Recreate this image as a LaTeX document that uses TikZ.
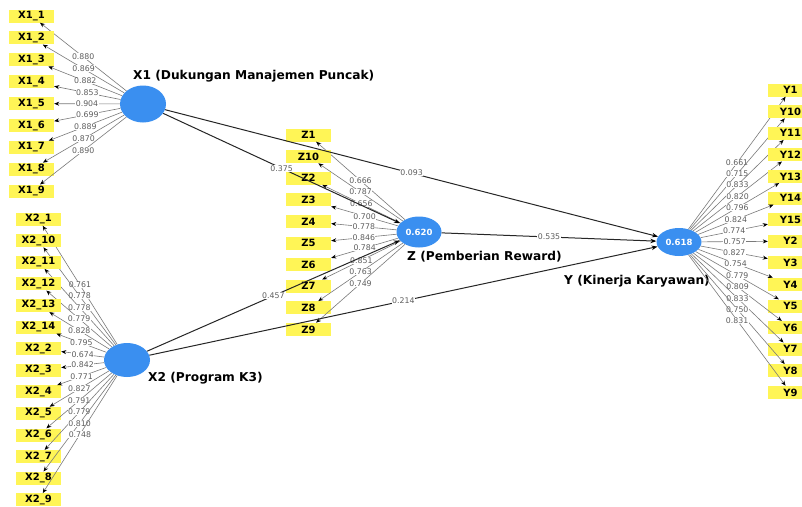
\documentclass[tikz,border=0pt]{standalone}
\usepackage{fontspec}
\setmainfont{DejaVu Sans}
\usepackage{tikz}
\usetikzlibrary{arrows.meta, positioning, shapes.geometric}
\definecolor{plsBlue}{HTML}{3A8FF0}
\definecolor{plsYellow}{HTML}{FFF556}
\definecolor{plsGray}{HTML}{5E5E5E}
\definecolor{plsLine}{HTML}{7A7A7A}

\begin{document}
\begin{tikzpicture}[x=1pt, y=-1pt,
  ind/.style={fill=plsYellow, minimum width=45pt, minimum height=13pt,
              inner sep=0pt, font=\bfseries\fontsize{10}{11}\selectfont},
  lat/.style={ellipse, fill=plsBlue, inner sep=0pt, text=white,
              font=\bfseries\fontsize{8.5}{9}\selectfont},
  latname/.style={anchor=west, inner sep=0pt, font=\bfseries\fontsize{12.2}{14}\selectfont},
  outer/.style={draw=plsLine, line width=0.6pt, -{Stealth[length=5pt, width=4pt, black]}},
  inner/.style={draw=black!85, line width=1pt, -{Stealth[length=6pt, width=4.5pt, black]}},
  ld/.style={fill=white, inner sep=0.4pt, text=plsGray, font=\fontsize{7.8}{8}\selectfont}]
  \useasboundingbox[fill=white] (0,0) rectangle (802,506);

  \node[lat, minimum width=46pt, minimum height=37pt] (X1) at (143,104) {};
  \node[lat, minimum width=46pt, minimum height=34pt] (X2) at (127,360) {};
  \node[lat, minimum width=45pt, minimum height=31pt] (Z) at (419,232) {0.620};
  \node[lat, minimum width=45pt, minimum height=28pt] (Y) at (679,242) {0.618};

  \node[latname] (X1name) at (133,76) {X1 (Dukungan Manajemen Puncak)};
  \node[latname] (X2name) at (148,378) {X2 (Program K3)};
  \node[latname] (Zname) at (407,257) {Z (Pemberian Reward)};
  \node[latname] (Yname) at (564,281) {Y (Kinerja Karyawan)};

  % indicators
  \foreach \t/\v [count=\i] in {1/0.880, 2/0.869, 3/0.882, 4/0.853, 5/0.904,
      6/0.699, 7/0.889, 8/0.870, 9/0.890} {
    \node[ind] (x1-\t) at (31.5, {16+21.9*(\i-1)}) {X1\_\t};
    \draw[outer] (X1) -- node[ld] {\v} (x1-\t);
  }
  \foreach \t/\v [count=\i] in {1/0.761, 10/0.778, 11/0.778, 12/0.779, 13/0.828,
      14/0.795, 2/0.674, 3/0.842, 4/0.771, 5/0.827, 6/0.791, 7/0.779, 8/0.810, 9/0.748} {
    \node[ind] (x2-\t) at (38.5, {219+21.6*(\i-1)}) {X2\_\t};
    \draw[outer] (X2) -- node[ld] {\v} (x2-\t);
  }
  \foreach \t/\v [count=\i] in {1/0.666, 10/0.787, 2/0.656, 3/0.700, 4/0.778,
      5/0.846, 6/0.784, 7/0.851, 8/0.763, 9/0.749} {
    \node[ind] (z-\t) at (308.5, {135+21.6*(\i-1)}) {Z\t};
    \draw[outer] (Z) -- node[ld] {\v} (z-\t);
  }
  \foreach \t/\v [count=\i] in {1/0.661, 10/0.715, 11/0.833, 12/0.820, 13/0.796,
      14/0.824, 15/0.774, 2/0.757, 3/0.827, 4/0.754, 5/0.779, 6/0.809, 7/0.833,
      8/0.750, 9/0.831} {
    \node[ind] (y-\t) at (790.5, {90+21.6*(\i-1)}) {Y\t};
    \draw[outer] (Y) -- node[ld] {\v} (y-\t);
  }

  % structural paths
  \draw[inner] (X1) -- node[ld] {0.375} (Z);
  \draw[inner] (X1) -- node[ld] {0.093} (Y);
  \draw[inner] (X2) -- node[ld] {0.457} (Z);
  \draw[inner] (X2) -- node[ld] {0.214} (Y);
  \draw[inner] (Z) -- node[ld] {0.535} (Y);
\end{tikzpicture}
\end{document}
